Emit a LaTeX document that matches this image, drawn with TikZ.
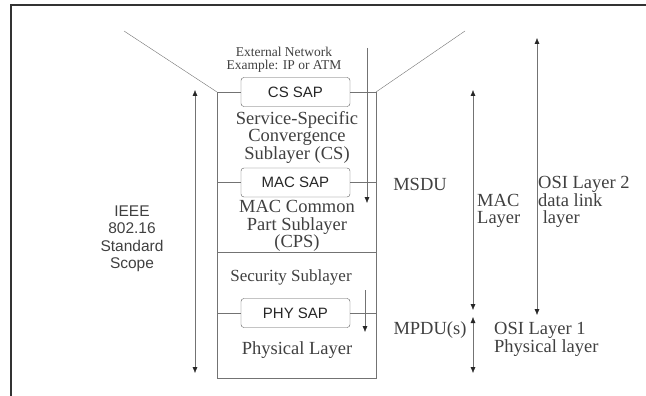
\documentclass[tikz,border=0pt]{standalone}
\usepackage{fontspec}
\setmainfont{Liberation Serif}
\setsansfont{Liberation Sans}
\usepackage{tikz}
\usetikzlibrary{
    shapes,
    positioning,
    calc,
    arrows.meta
}
\tikzset{
  sap/.style = {
      draw=black!65,
      rounded corners=3pt,
      minimum width=109pt,
      minimum height=29pt,
      inner sep=0pt,
      font=\sffamily\fontsize{15}{15}\selectfont,
      text=black!85
  },
  layer/.style = {
      align=center,
      inner sep=0pt,
      text=black!75,
      font=\fontsize{18.5}{17.5}\selectfont
  },
  side/.style = {
      layer,
      align=left,
      anchor=west
  },
  small/.style = {
      layer,
      font=\fontsize{13.5}{13}\selectfont
  },
  scope/.style = {
      layer,
      font=\sffamily\fontsize{15.5}{17.5}\selectfont
  },
  wire/.style = {
      draw=black!55,
      thin
  },
  flow/.style = {
      wire,
      >={Latex[length=6pt,width=5pt,color=black!85]},
      ->
  },
  span/.style = {
      wire,
      >={Latex[length=6pt,width=5pt,color=black!85]},
      <->
  },
  frame/.style = {
      draw=black!80,
      line width=1.2pt
  }
}

\begin{document}
\begin{tikzpicture}[x=1pt,y=-1pt]
    \useasboundingbox (0,0) rectangle (646,396);
    \draw[frame] (11,396) -- (11,5) -- (646,5);
    % Corners
    \coordinate (nl) at (124,31);
    \coordinate (nr) at (465,31);
    \coordinate (tl) at (217,92);
    \coordinate (tr) at (376,92);
    \coordinate (sl) at (217,252);
    \coordinate (sr) at (376,252);
    \coordinate (bl) at (217,378);
    \coordinate (br) at (376,378);
    % Nodes
    \node[sap] (cssap) at (295.5,92) {CS SAP};
    \node[sap] (macsap) at (295.5,182.5) {MAC SAP};
    \node[sap] (physap) at (295.5,313) {PHY SAP};
    \node[small] (ext) at (284,60) {External Network\\Example: IP or ATM};
    \node[layer] (cs) at (297,137) {Service-Specific\\Convergence\\Sublayer (CS)};
    \node[layer] (cps) at (297,226) {MAC Common\\Part Sublayer\\(CPS)};
    \node[layer, font=\fontsize{17}{17}\selectfont] (sec) at (291,277) {Security Sublayer};
    \node[layer] (phy) at (297,350) {Physical Layer};
    \node[layer] (msdu) at (420,184) {MSDU};
    \node[layer] (mpdu) at (430,330) {MPDU(s)};
    \node[scope] (ieee) at (132,239) {IEEE\\802.16\\Standard\\Scope};
    \node[side] (mac) at (477,211) {MAC\\Layer};
    \node[side] (osi2) at (538,202) {OSI Layer 2\\data link\\\ layer};
    \node[side] (osi1) at (494,339.5) {OSI Layer 1\\Physical layer};
    % Arrow ends
    \coordinate (sdu1) at (367,48);
    \coordinate (sdu2) at (367,203);
    \coordinate (pdu1) at (365,290);
    \coordinate (pdu2) at (365,332);
    \coordinate (sc1) at (195,90);
    \coordinate (sc2) at (195,373);
    \coordinate (ma1) at (473,90);
    \coordinate (ma2) at (473,310);
    \coordinate (ph1) at (473,317);
    \coordinate (ph2) at (473,373);
    \coordinate (os1) at (537,38);
    \coordinate (os2) at (537,315);
    % Edges
    \path[wire]
    (nl) edge (tl)
    (nr) edge (tr)
    (tl) edge (cssap.west)
    (cssap.east) edge (tr)
    (macsap.west -| tl) edge (macsap.west)
    (macsap.east) edge (macsap.east -| tr)
    (physap.west -| tl) edge (physap.west)
    (physap.east) edge (physap.east -| tr)
    (sl) edge (sr);
    \draw[wire] (tl) -- (bl) -- (br) -- (tr);
    \draw[flow] (sdu1) -- (sdu2);
    \draw[flow] (pdu1) -- (pdu2);
    \draw[span] (sc1) -- (sc2);
    \draw[span] (ma1) -- (ma2);
    \draw[span] (ph1) -- (ph2);
    \draw[span] (os1) -- (os2);
\end{tikzpicture}
\end{document}
